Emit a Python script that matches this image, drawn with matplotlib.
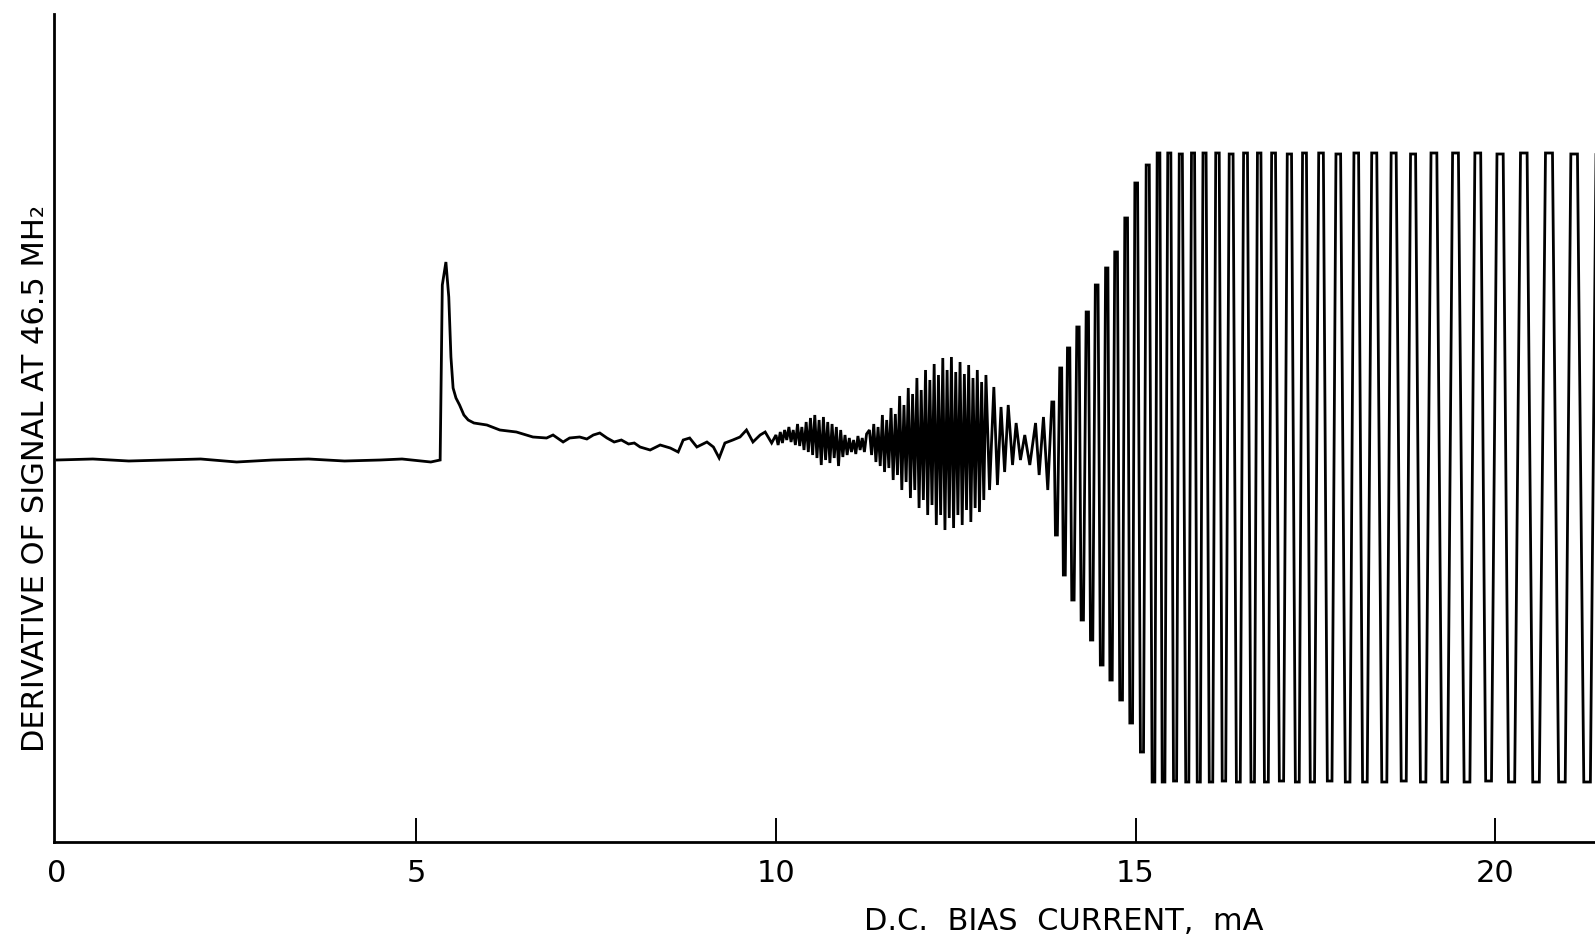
import numpy as np
import matplotlib
matplotlib.use('Agg')
import matplotlib.pyplot as plt

plt.rcParams['font.family'] = ['Liberation Sans Narrow', 'DejaVu Sans']

# slow part of the trace : baseline, spike at 5.4 mA, decay, noise (x in mA, y arbitrary)
trace_x = [0.0, 0.5, 1.0, 1.5, 2.0, 2.5, 3.0, 3.5, 4.0, 4.5, 4.8, 5.2, 5.33,
           5.36, 5.41, 5.45, 5.48, 5.51, 5.55, 5.60, 5.66, 5.72, 5.80, 5.98, 6.16, 6.39, 6.62,
           6.81, 6.90, 7.04, 7.13, 7.27, 7.37, 7.46, 7.55, 7.65, 7.75, 7.85, 7.95, 8.03,
           8.11, 8.25, 8.39, 8.53, 8.64, 8.71, 8.80, 8.90, 9.04, 9.13, 9.21, 9.29, 9.40, 9.50,
           9.59, 9.68, 9.78, 9.85, 9.94,
           10.00, 10.03, 10.06, 10.09, 10.12, 10.15, 10.18, 10.21, 10.24, 10.27, 10.30, 10.33,
           10.36, 10.39, 10.42, 10.45, 10.48, 10.51, 10.54, 10.57, 10.60, 10.63, 10.66, 10.69,
           10.72, 10.75, 10.78, 10.81, 10.84, 10.87, 10.90, 10.93, 10.96, 10.99, 11.02, 11.05,
           11.08, 11.11, 11.14, 11.17, 11.20, 11.23, 11.26]
trace_y = [0.0, 0.01, -0.01, 0.0, 0.01, -0.02, 0.0, 0.01, -0.01, 0.0, 0.01, -0.02, 0.0,
           1.75, 1.98, 1.63, 1.03, 0.72, 0.62, 0.55, 0.45, 0.40, 0.37, 0.35, 0.30, 0.28, 0.23,
           0.22, 0.25, 0.18, 0.22, 0.23, 0.21, 0.25, 0.27, 0.22, 0.18, 0.20, 0.16, 0.17,
           0.13, 0.10, 0.15, 0.12, 0.08, 0.20, 0.22, 0.13, 0.18, 0.13, 0.02, 0.17, 0.20, 0.23,
           0.30, 0.18, 0.25, 0.28, 0.17,
           0.25, 0.15, 0.28, 0.17, 0.30, 0.20, 0.33, 0.18, 0.30, 0.15, 0.36, 0.14,
           0.33, 0.10, 0.38, 0.08, 0.42, 0.05, 0.45, 0.02, 0.40, -0.05, 0.43, 0.0,
           0.38, -0.03, 0.36, 0.02, 0.33, -0.06, 0.30, 0.03, 0.25, 0.05, 0.22, 0.08,
           0.20, 0.06, 0.24, 0.10, 0.22, 0.08, 0.26]

# oscillation maxima
top_x = [11.30, 11.36, 11.42, 11.48, 11.54, 11.60, 11.66, 11.72, 11.78, 11.84, 11.90, 11.96,
         12.02, 12.08, 12.14, 12.20, 12.26, 12.32, 12.38, 12.44, 12.50, 12.56, 12.62, 12.68,
         12.74, 12.80, 12.86, 12.92,
         13.03, 13.13, 13.23, 13.34, 13.46, 13.61, 13.72,
         13.85, 13.96, 14.07, 14.20, 14.33, 14.46, 14.60, 14.73, 14.87, 15.01, 15.17,
         15.32, 15.47, 15.63, 15.80, 15.96, 16.14, 16.33, 16.53, 16.72, 16.92, 17.14, 17.35,
         17.58, 17.82, 18.07, 18.32, 18.59, 18.86, 19.15, 19.45, 19.76, 20.07, 20.40, 20.75,
         21.10, 21.45]
top_y = [0.30, 0.36, 0.33, 0.45, 0.40, 0.52, 0.46, 0.64, 0.55, 0.72, 0.66, 0.82,
         0.70, 0.90, 0.80, 0.96, 0.85, 1.02, 0.90, 1.03, 0.88, 0.98, 0.86, 0.95,
         0.82, 0.90, 0.78, 0.85,
         0.73, 0.53, 0.55, 0.37, 0.25, 0.37, 0.43,
         0.58, 0.92, 1.12, 1.33, 1.48, 1.75, 1.92, 2.08, 2.42, 2.77, 2.95,
         3.07, 3.07, 3.06, 3.07, 3.07, 3.07, 3.06, 3.07, 3.07, 3.07, 3.06, 3.07,
         3.07, 3.06, 3.07, 3.07, 3.07, 3.06, 3.07, 3.07, 3.07, 3.06, 3.07, 3.07,
         3.06, 3.07]

# oscillation minima
bot_x = [11.33, 11.39, 11.45, 11.51, 11.57, 11.63, 11.69, 11.75, 11.81, 11.87, 11.93, 11.99,
         12.05, 12.11, 12.17, 12.23, 12.29, 12.35, 12.41, 12.47, 12.53, 12.59, 12.65, 12.71,
         12.77, 12.83, 12.89, 12.97,
         13.08, 13.18, 13.29, 13.40, 13.53, 13.66, 13.78,
         13.90, 14.01, 14.13, 14.26, 14.39, 14.53, 14.66, 14.80, 14.94, 15.09,
         15.25, 15.39, 15.55, 15.72, 15.88, 16.05, 16.23, 16.43, 16.63, 16.82, 17.03, 17.25,
         17.46, 17.70, 17.95, 18.19, 18.46, 18.73, 19.00, 19.30, 19.61, 19.91, 20.23, 20.57,
         20.93, 21.28]
bot_y = [0.05, -0.02, -0.06, -0.12, -0.08, -0.20, -0.15, -0.30, -0.22, -0.38, -0.30, -0.48,
         -0.40, -0.55, -0.45, -0.65, -0.55, -0.70, -0.58, -0.68, -0.55, -0.65, -0.50, -0.62,
         -0.48, -0.52, -0.40, -0.30,
         -0.25, -0.12, -0.05, 0.0, -0.05, -0.15, -0.30,
         -0.75, -1.15, -1.40, -1.60, -1.80, -2.05, -2.20, -2.40, -2.63, -2.92,
         -3.22, -3.22, -3.21, -3.22, -3.22, -3.22, -3.21, -3.22, -3.22, -3.22, -3.21, -3.22,
         -3.22, -3.21, -3.22, -3.22, -3.22, -3.21, -3.22, -3.22, -3.22, -3.21, -3.22, -3.22,
         -3.22, -3.22]

xticks = [0, 5, 10, 15, 20]
xticklabels = ['0', '5', '10', '15', '20']
xlabel = 'D.C.  BIAS  CURRENT,  mA'
ylabel = 'DERIVATIVE OF SIGNAL AT 46.5 MH\u2082'

# merge maxima / minima in order
ext = sorted(zip(top_x + bot_x, top_y + bot_y))
ex = [p[0] for p in ext]
ey = [p[1] for p in ext]

# pen trace : flat tops/bottoms on the big swings (recorder pen turn)
osc_x, osc_y = [], []
for i in range(len(ex)):
    if ex[i] < 13.8:
        osc_x.append(ex[i])
        osc_y.append(ey[i])
        continue
    g1 = ex[i] - ex[i - 1]
    g2 = ex[i + 1] - ex[i] if i + 1 < len(ex) else g1
    hw = 0.27 * min(g1, g2)
    osc_x += [ex[i] - hw, ex[i] + hw]
    osc_y += [ey[i], ey[i]]

xs = np.array(trace_x + osc_x)
ys = np.array(trace_y + osc_y)

fig = plt.figure(figsize=(15.95, 9.41), dpi=100)
ax = fig.add_axes([54/1595, 99/941, 1 - 54/1595, 828/941])

ax.plot(xs, ys, color='black', lw=2.0, solid_joinstyle='miter')

ax.set_xlim(-0.04, 21.39)
ax.set_ylim(-3.82, 4.46)

ax.spines['top'].set_visible(False)
ax.spines['right'].set_visible(False)
ax.spines['left'].set_linewidth(2.0)
ax.spines['bottom'].set_linewidth(2.0)

ax.set_xticks(xticks)
ax.set_xticklabels(xticklabels)
ax.set_yticks([])
ax.tick_params(axis='x', direction='in', length=17, width=1.4, pad=12, labelsize=22)
ax.xaxis.get_major_ticks()[0].tick1line.set_visible(False)

fig.text(1064/1595, 1 - 921/941, xlabel, ha='center', va='center', fontsize=22)
fig.text(36/1595, 1 - 479/941, ylabel, ha='center', va='center', rotation=90, fontsize=22)

fig.savefig('out.png', dpi=100)
